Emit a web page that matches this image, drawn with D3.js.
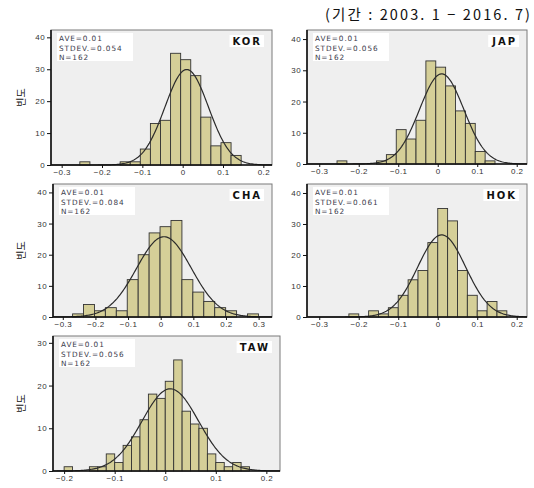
<!DOCTYPE html>
<html>
<head>
<meta charset="utf-8">
<script src="https://cdn.jsdelivr.net/npm/d3@7"></script>
<style>
  body { margin: 0; background: #fff; }
  svg { display: block; }
</style>
</head>
<body>
<svg id="chart" width="534" height="488"></svg>
<script>
(function() {

  // Panel names.
  var countries = ["KOR", "JAP", "CHA", "HOK", "TAW"];

  // Summary stats printed in each panel.
  var aves = [0.01, 0.01, 0.01, 0.01, 0.01];
  var stdevs = [0.054, 0.056, 0.084, 0.061, 0.056];
  var ns = [162, 162, 162, 162, 162];

  // Histogram bins: first edge, width, counts.
  var binStarts = [-0.255, -0.255, -0.27, -0.225, -0.2];
  var binWidths = [0.025, 0.025, 0.0335, 0.025, 0.01667];
  var counts = [
    [1, 0, 0, 0, 1, 1, 5, 13, 14, 35, 33, 28, 15, 6, 7, 3],
    [1, 0, 0, 0, 1, 3, 11, 8, 14, 33, 31, 25, 17, 13, 4, 1],
    [1, 4, 2, 3, 2, 12, 20, 27, 29, 31, 12, 8, 5, 3, 2, 0, 1],
    [1, 0, 2, 1, 3, 7, 12, 15, 24, 35, 31, 15, 7, 2, 5, 2],
    [1, 0, 0, 1, 1, 4, 2, 6, 8, 12, 18, 17, 21, 26, 14, 11, 10, 4, 2, 1, 2, 1]
  ];

  // Tick labels.
  var xTicks = [
    [-0.3, -0.2, -0.1, 0, 0.1, 0.2],
    [-0.3, -0.2, -0.1, 0, 0.1, 0.2],
    [-0.3, -0.2, -0.1, 0, 0.1, 0.2, 0.3],
    [-0.3, -0.2, -0.1, 0, 0.1, 0.2],
    [-0.2, -0.1, 0, 0.1, 0.2]
  ];
  var yTicks = [
    [0, 10, 20, 30, 40],
    [0, 10, 20, 30, 40],
    [0, 10, 20, 30, 40],
    [0, 10, 20, 30, 40],
    [0, 10, 20, 30]
  ];

  var title = "(기간 : 2003. 1 − 2016. 7)";
  var yLabel = "빈도";

  // Plot boxes and visible domains (layout only).
  var boxes = [
    {x0: 51, x1: 272, y0: 30, y1: 165, xmin: -0.3265, xmax: 0.2215, ymax: 42.3, ylab: true},
    {x0: 307, x1: 527, y0: 30, y1: 164, xmin: -0.331, xmax: 0.226, ymax: 42.9, ylab: false},
    {x0: 53, x1: 272, y0: 184, y1: 317, xmin: -0.330, xmax: 0.341, ymax: 42.7, ylab: true},
    {x0: 307, x1: 527, y0: 184, y1: 317, xmin: -0.331, xmax: 0.226, ymax: 42.9, ylab: false},
    {x0: 53, x1: 280, y0: 336, y1: 471, xmin: -0.222, xmax: 0.227, ymax: 31.6, ylab: true}
  ];

  // Styles.
  var barFill = "#d5cf98";
  var barStroke = "#333";
  var plotBg = "#efefef";
  var font = "'Liberation Sans', Arial, sans-serif";
  var wideFont = "'DejaVu Sans', sans-serif";
  var krFont = "'Noto Sans CJK KR', sans-serif";

  var svg = d3.select("#chart");

  // Title at top right.
  svg.append("text")
    .attr("x", 325)
    .attr("y", 20)
    .attr("textLength", 205)
    .attr("lengthAdjust", "spacing")
    .attr("font-family", krFont)
    .attr("font-size", 14.5)
    .attr("fill", "#111")
    .text(title);

  countries.forEach(function(name, k) {
    var b = boxes[k];

    var x = d3.scaleLinear().domain([b.xmin, b.xmax]).range([b.x0, b.x1]);
    var y = d3.scaleLinear().domain([0, b.ymax]).range([b.y1, b.y0]);

    var g = svg.append("g");

    // Plot background with grey frame.
    g.append("rect")
      .attr("x", b.x0)
      .attr("y", b.y0)
      .attr("width", b.x1 - b.x0)
      .attr("height", b.y1 - b.y0)
      .attr("fill", plotBg)
      .attr("stroke", "#7a7a7a")
      .attr("stroke-width", 1);

    // Bars.
    var bins = counts[k].map(function(c, i) {
      return {x0: binStarts[k] + i * binWidths[k], x1: binStarts[k] + (i + 1) * binWidths[k], c: c};
    }).filter(function(d) { return d.c > 0; });

    g.selectAll(".bar")
      .data(bins)
      .enter()
      .append("rect")
      .attr("class", "bar")
      .attr("x", function(d) { return x(d.x0); })
      .attr("y", function(d) { return y(d.c); })
      .attr("width", function(d) { return x(d.x1) - x(d.x0); })
      .attr("height", function(d) { return y(0) - y(d.c); })
      .attr("fill", barFill)
      .attr("stroke", barStroke)
      .attr("stroke-width", 0.9);

    // Fitted normal curve.
    var scale = ns[k] * binWidths[k] / (stdevs[k] * Math.sqrt(2 * Math.PI));
    var pts = d3.range(0, 201).map(function(i) {
      var v = b.xmin + (b.xmax - b.xmin) * i / 200;
      var z = (v - aves[k]) / stdevs[k];
      return [v, scale * Math.exp(-0.5 * z * z)];
    });
    g.append("path")
      .datum(pts)
      .attr("fill", "none")
      .attr("stroke", "#2b2b2b")
      .attr("stroke-width", 1.2)
      .attr("d", d3.line()
        .x(function(d) { return x(d[0]); })
        .y(function(d) { return y(d[1]); }));

    // Axes.
    var xAxis = d3.axisBottom(x)
      .tickValues(xTicks[k])
      .tickSize(3)
      .tickPadding(1)
      .tickSizeOuter(0)
      .tickFormat(function(d) { return d === 0 ? "0" : d3.format(".1f")(d); });
    var gx = g.append("g")
      .attr("transform", "translate(0," + b.y1 + ")")
      .call(xAxis);

    var yAxis = d3.axisLeft(y)
      .tickValues(yTicks[k])
      .tickSize(4)
      .tickPadding(2)
      .tickSizeOuter(0)
      .tickFormat(d3.format("d"));
    var gy = g.append("g")
      .attr("transform", "translate(" + b.x0 + ",0)")
      .call(yAxis);

    [gx, gy].forEach(function(ax) {
      ax.select(".domain").attr("stroke", "#111").attr("stroke-width", 1.6);
      ax.selectAll(".tick line").attr("stroke", "#111").attr("stroke-width", 1);
      ax.selectAll(".tick text")
        .attr("font-family", font)
        .attr("font-size", 8)
        .attr("letter-spacing", 0.4)
        .attr("fill", "#333");
    });
    gx.select(".domain").attr("d", "M" + b.x0 + ",0H" + b.x1);
    gy.select(".domain").attr("d", "M0," + b.y1 + "V" + b.y0);

    // Stats box.
    g.append("rect")
      .attr("x", b.x0 + 6)
      .attr("y", b.y0 + 3)
      .attr("width", 76)
      .attr("height", 28)
      .attr("fill", "#fff");
    var lines = [
      "AVE=" + aves[k],
      "STDEV.=" + stdevs[k],
      "N=" + ns[k]
    ];
    g.selectAll(".stat")
      .data(lines)
      .enter()
      .append("text")
      .attr("class", "stat")
      .attr("x", b.x0 + 8)
      .attr("y", function(d, i) { return b.y0 + 11 + i * 9.5; })
      .attr("font-family", wideFont)
      .attr("font-size", 7.3)
      .attr("letter-spacing", 0.9)
      .attr("fill", "#3a3a4a")
      .text(function(d) { return d; });

    // Country tag at top right.
    var tag = g.append("text")
      .attr("x", b.x1 - 10)
      .attr("y", b.y0 + 14.5)
      .attr("text-anchor", "end")
      .attr("font-family", wideFont)
      .attr("font-weight", "bold")
      .attr("font-size", 10)
      .attr("letter-spacing", 2)
      .attr("fill", "#111")
      .text(name);
    var bb = tag.node().getBBox();
    g.insert("rect", function() { return tag.node(); })
      .attr("x", bb.x - 3)
      .attr("y", b.y0 + 5)
      .attr("width", bb.width + 5)
      .attr("height", 12)
      .attr("fill", "#fff");

    // Y label on the left column only.
    if (b.ylab) {
      g.append("text")
        .attr("transform", "translate(25," + ((b.y0 + b.y1) / 2) + ") rotate(-90)")
        .attr("text-anchor", "middle")
        .attr("font-family", krFont)
        .attr("font-size", 10)
        .attr("fill", "#111")
        .text(yLabel);
    }
  });

})();
</script>
</body>
</html>
